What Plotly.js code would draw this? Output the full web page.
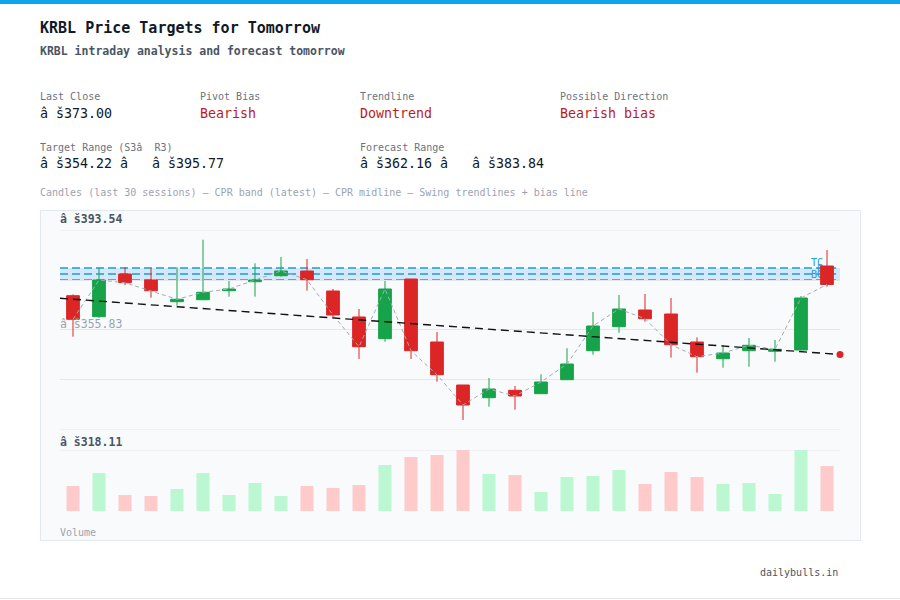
<!DOCTYPE html>
<html>
<head>
<meta charset="utf-8">
<script src="https://cdn.plot.ly/plotly-3.0.1.min.js"></script>
<style>
html,body{margin:0;padding:0;background:#fff;}
#chart{width:900px;height:600px;}
</style>
</head>
<body>
<div id="chart"></div>
<script>
// ---- data ----
const sessions = [0,1,2,3,4,5,6,7,8,9,10,11,12,13,14,15,16,17,18,19,20,21,22,23,24,25,26,27,28,29];
const opens  = [368.76,360.84,376.94,374.67,366.50,367.25,370.65,374.04,376.30,378.08,370.53,360.73,352.55,375.06,351.30,335.08,330.29,333.08,331.80,337.08,348.02,357.07,363.37,361.86,351.30,344.99,348.02,347.79,348.28,379.96];
const highs  = [369.29,379.32,379.58,379.09,379.58,389.88,374.31,380.98,383.36,382.60,371.29,363.75,374.31,375.06,355.07,335.08,337.72,334.70,339.12,348.92,362.61,369.02,369.40,367.89,353.07,350.17,352.81,352.05,368.65,385.99];
const lows   = [353.30,360.46,372.80,368.01,364.99,367.10,368.39,368.39,375.93,370.65,360.24,344.89,351.41,344.89,336.32,321.88,326.89,325.77,331.80,337.08,346.51,354.80,358.96,345.38,339.72,341.61,341.98,343.87,348.28,372.16];
const closes = [359.86,374.67,373.66,370.65,367.40,370.04,371.29,374.67,378.08,374.80,361.48,349.53,371.29,348.02,338.96,327.54,333.57,330.93,336.21,343.00,357.33,363.74,360.09,350.28,345.76,347.15,350.05,348.54,367.89,373.00];
const volumes = [250,380,160,150,220,380,160,280,150,250,230,260,460,540,560,610,370,360,190,340,350,410,270,390,340,270,280,170,610,450];

const cprLevels = [379.21, 376.95, 374.69];      // TC, P, BC
const cprNames  = ["TC", "P", "BC"];
const trendX = [-0.5, 29.5];
const trendY = [367.78, 346.60];
const biasX = [29.5];
const biasY = [346.60];

const priceTicks = [318.11, 336.97, 355.83, 374.68, 393.54];
const priceRange = [318.11, 393.54];
const volMax = 610;

const cur = "â š";
const headerLabels = ["Last Close", "Pivot Bias", "Trendline", "Possible Direction"];
const headerValues = [cur + "373.00", "Bearish", "Downtrend", "Bearish bias"];
const rangeLabels = ["Target Range (S3â  R3)", "Forecast Range"];
const rangeValues = [cur + "354.22 â   " + cur + "395.77", cur + "362.16 â   " + cur + "383.84"];

// ---- styles ----
const GREEN = "#16a34a", RED = "#dc2626";
const VGREEN = "#bbf7d0", VRED = "#fecaca";
const CPR = "#1e9bd7";
const GRID = "#e5e7eb";
const FONT = "DejaVu Sans Mono";
const W = 900, H = 600;
const px = x => x / W;
const py = y => 1 - y / H;

const volColors = sessions.map(i => closes[i] >= opens[i] ? VGREEN : VRED);

const traces = [
  {
    type: "candlestick", x: sessions, open: opens, high: highs, low: lows, close: closes,
    xaxis: "x", yaxis: "y",
    increasing: {line: {color: GREEN, width: 1}, fillcolor: GREEN},
    decreasing: {line: {color: RED, width: 1}, fillcolor: RED},
    whiskerwidth: 0, hoverinfo: "skip", showlegend: false
  },
  {
    type: "scatter", mode: "lines", x: sessions, y: closes, xaxis: "x", yaxis: "y",
    line: {color: "#a3acb9", width: 1, dash: "4px,3px"}, hoverinfo: "skip", showlegend: false
  },
  {
    type: "scatter", mode: "lines", x: trendX, y: trendY, xaxis: "x", yaxis: "y",
    line: {color: "#111111", width: 1.4, dash: "8px,5px"}, hoverinfo: "skip", showlegend: false,
    cliponaxis: false
  },
  {
    type: "scatter", mode: "markers", x: biasX, y: biasY, xaxis: "x", yaxis: "y",
    marker: {color: RED, size: 7}, cliponaxis: false, hoverinfo: "skip", showlegend: false
  },
  {
    type: "bar", x: sessions, y: volumes, xaxis: "x", yaxis: "y2",
    marker: {color: volColors}, width: 0.5, hoverinfo: "skip", showlegend: false
  }
];

const shapes = [
  {type: "rect", xref: "paper", yref: "paper", x0: 0, x1: 1, y0: py(4), y1: 1, fillcolor: "#0ea5e9", line: {width: 0}, layer: "below"},
  {type: "line", xref: "paper", yref: "paper", x0: 0, x1: 1, y0: py(598.5), y1: py(598.5), line: {color: GRID, width: 1}, layer: "below"},
  {type: "rect", xref: "paper", yref: "paper", x0: px(40.5), x1: px(860.5), y0: py(540.5), y1: py(210.5), fillcolor: "#f8fafc", line: {color: "#e2e8f0", width: 1}, layer: "below"},
  // edge gridlines (Plotly drops grid lines lying on the range ends)
  {type: "line", xref: "x", yref: "y", x0: -0.5, x1: 29.5, y0: priceRange[1], y1: priceRange[1], line: {color: GRID, width: 1}, layer: "below"},
  {type: "line", xref: "x", yref: "y", x0: -0.5, x1: 29.5, y0: priceRange[0], y1: priceRange[0], line: {color: GRID, width: 1}, layer: "below"},
  {type: "line", xref: "x", yref: "y2", x0: -0.5, x1: 29.5, y0: volMax, y1: volMax, line: {color: GRID, width: 1}, layer: "below"},
  {type: "rect", xref: "x", yref: "y", x0: -0.5, x1: 29.5, y0: cprLevels[2], y1: cprLevels[0], fillcolor: "rgba(147,197,253,0.35)", line: {width: 0}, layer: "below"}
];
cprLevels.forEach((lv, k) => {
  shapes.push({type: "line", xref: "x", yref: "y", x0: -0.5, x1: 29.5, y0: lv, y1: lv,
    line: {color: CPR, width: 1.3, dash: "8px,4px"}, layer: "below"});
  shapes.push({type: "line", xref: "x", yref: "y", x0: 27.5, x1: 28.85, y0: lv, y1: lv,
    line: {color: "rgba(0,0,0,0)", width: 0.1}, layer: "below",
    label: {text: cprNames[k], textposition: "end", xanchor: "right", yanchor: "bottom", padding: 1,
      font: {family: FONT, size: 10, color: CPR}}});
});

const ann = [];
function txt(x, y, text, size, color, bold, xanchor) {
  ann.push({xref: "paper", yref: "paper", x: px(x), y: py(y), text: bold ? "<b>" + text + "</b>" : text,
    showarrow: false, xanchor: xanchor || "left", yanchor: "middle", borderpad: 0,
    font: {family: FONT, size: size, color: color}});
}
txt(39, 28, "KRBL Price Targets for Tomorrow", 15, "#111827", true);
txt(39, 51.5, "KRBL intraday analysis and forecast tomorrow", 11.5, "#4b5563", true);
const colX = [39, 199, 359, 559];
const valColors = ["#111827", "#b91c1c", "#b91c1c", "#b91c1c"];
headerLabels.forEach((t, i) => txt(colX[i], 97, t, 10, "#6b7280", false));
headerValues.forEach((t, i) => txt(colX[i], 114, t, 13.3, valColors[i], false));
const rColX = [39, 359];
rangeLabels.forEach((t, i) => txt(rColX[i], 147, t, 10, "#6b7280", false));
rangeValues.forEach((t, i) => txt(rColX[i], 163.5, t, 13.3, "#111827", false));
txt(39, 192.5, "Candles (last 30 sessions) – CPR band (latest) – CPR midline – Swing trendlines + bias line", 10, "#9ca3af", false);
txt(59, 219, cur + priceRange[1].toFixed(2), 11.5, "#4b5563", true);
txt(59, 323.5, cur + priceTicks[2].toFixed(2), 11.5, "#9ca3af", false);
txt(59, 441.5, cur + priceRange[0].toFixed(2), 11.5, "#4b5563", true);
txt(59, 532.5, "Volume", 10, "#9ca3af", false);
txt(839, 572.5, "dailybulls.in", 10, "#4b5563", false, "right");

const layout = {
  width: W, height: H,
  margin: {l: 0, r: 0, t: 0, b: 0, pad: 0},
  paper_bgcolor: "#ffffff", plot_bgcolor: "rgba(0,0,0,0)",
  font: {family: FONT},
  showlegend: false,
  dragmode: false,
  xaxis: {domain: [px(60), px(840)], range: [-0.5, 29.5], showgrid: false, zeroline: false,
    showticklabels: false, ticks: "", showline: false, rangeslider: {visible: false}, fixedrange: true, anchor: "y2"},
  yaxis: {domain: [py(430), py(230)], range: priceRange, tickvals: priceTicks, showticklabels: false,
    gridcolor: GRID, gridwidth: 1, zeroline: false, showline: false, ticks: "", fixedrange: true, anchor: "x"},
  yaxis2: {domain: [py(511), py(450)], range: [0, volMax], tickvals: [volMax], showticklabels: false,
    gridcolor: GRID, gridwidth: 1, zeroline: false, showline: false, ticks: "", fixedrange: true, anchor: "x"},
  shapes: shapes,
  annotations: ann
};

Plotly.newPlot("chart", traces, layout, {displayModeBar: false, staticPlot: true});
</script>
</body>
</html>
